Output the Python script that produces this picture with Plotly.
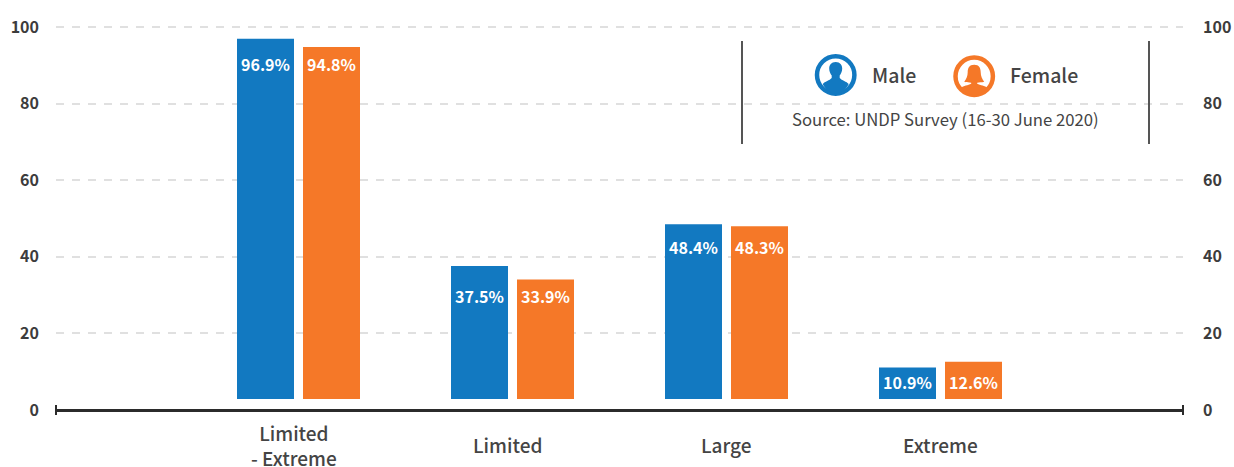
import plotly.graph_objects as go

categories = ["Limited<br>- Extreme", "Limited", "Large", "Extreme"]
male_labels = ["96.9%", "37.5%", "48.4%", "10.9%"]
female_labels = ["94.8%", "33.9%", "48.3%", "12.6%"]
male_values = [96.9, 37.6, 48.5, 11.1]
female_values = [94.8, 34.1, 48.0, 12.6]
y_ticks = [0, 20, 40, 60, 80, 100]

BLUE = "#1279c1"
ORANGE = "#f57828"
TEXT = "#444444"
FONT = "Noto Sans CJK KR"
W, H = 1234, 467
L, R, T, B = 56, 51, 22, 57
BAR_BASE = 2.87
SLOT_PX = 214
Y_MAX = 101.3

# pixel offsets of each value label below its bar top
male_drop = [25, 30, 23, 15]
female_drop = [17, 17, 21, 20]
cat_shift = [-5, -5, 0, 0]

pw = W - L - R
ph = H - T - B
px = lambda x: (x - L) / pw
py = lambda y: 1 - (y - T) / ph
idx = list(range(len(categories)))

fig = go.Figure()
fig.add_bar(x=idx, y=[v - BAR_BASE for v in male_values], base=BAR_BASE, name="Male",
            marker=dict(color=BLUE, line_width=0), showlegend=False)
fig.add_bar(x=idx, y=[v - BAR_BASE for v in female_values], base=BAR_BASE, name="Female",
            marker=dict(color=ORANGE, line_width=0), showlegend=False)
fig.add_scatter(x=idx, y=male_values, yaxis="y2", mode="markers", marker_opacity=0,
                hoverinfo="skip", showlegend=False)

for i in idx:
    for vals, labs, drop, sh in ((male_values, male_labels, male_drop, -33),
                                 (female_values, female_labels, female_drop, 33)):
        fig.add_annotation(x=i, y=vals[i], xref="x", yref="y", text=labs[i], showarrow=False,
                           xshift=sh, yshift=-drop[i], xanchor="center", yanchor="middle",
                           font=dict(family=FONT, size=16, color="white", weight=700))
    fig.add_annotation(x=i, xref="x", xshift=cat_shift[i], y=py(445), yref="paper", text=categories[i],
                       showarrow=False, xanchor="center", yanchor="middle",
                       font=dict(family=FONT, size=19, color=TEXT, weight=500))

shapes = [
    dict(type="rect", xref="paper", yref="paper", x0=px(738), x1=px(1154), y0=py(144), y1=py(41),
         fillcolor="white", line_width=0, layer="below"),
    dict(type="line", xref="paper", yref="paper", x0=px(742), x1=px(742), y0=py(144), y1=py(41),
         line=dict(color="#555555", width=2)),
    dict(type="line", xref="paper", yref="paper", x0=px(1149), x1=px(1149), y0=py(144), y1=py(41),
         line=dict(color="#555555", width=2)),
    dict(type="line", xref="paper", yref="paper", x0=px(56), x1=px(56), y0=py(415), y1=py(405),
         line=dict(color="#2b2b2b", width=2)),
    dict(type="line", xref="paper", yref="paper", x0=px(1183), x1=px(1183), y0=py(415), y1=py(405),
         line=dict(color="#2b2b2b", width=2)),
]

MALE_PATH = ("M 0,13 C -4.5,13 -6.5,10 -6.5,6.5 C -6.5,3.5 -5.2,1 -4,-0.5 L -4,-3 "
             "C -6,-5.5 -11,-6.5 -13,-9 C -10,-15 -5,-18.5 0,-18.5 C 5,-18.5 10,-15 13,-9 "
             "C 11,-6.5 6,-5.5 4,-3 L 4,-0.5 C 5.2,1 6.5,3.5 6.5,6.5 C 6.5,10 4.5,13 0,13 Z")
FEMALE_PATH = ("M 0,11.5 C -5,11.5 -6.5,8 -6.5,4 C -6.5,0 -8,-3 -10,-5.5 C -7.5,-6.2 -5,-6 -3,-6.5 L -3,-7.5 "
               "C -6,-9 -11,-9.5 -13,-11.5 C -10,-16 -5,-18.5 0,-18.5 C 5,-18.5 10,-16 13,-11.5 "
               "C 11,-9.5 6,-9 3,-7.5 L 3,-6.5 C 5,-6 7.5,-6.2 10,-5.5 C 8,-3 6.5,0 6.5,4 C 6.5,8 5,11.5 0,11.5 Z")

for cx, cy, col, path in ((835.7, 75, BLUE, MALE_PATH), (974.2, 76.3, ORANGE, FEMALE_PATH)):
    common = dict(xref="paper", yref="paper", xsizemode="pixel", ysizemode="pixel",
                  xanchor=px(cx), yanchor=py(cy))
    shapes.append(dict(type="circle", x0=-18.7, x1=18.7, y0=-18.7, y1=18.7,
                       fillcolor="white", line=dict(color=col, width=4.5), **common))
    shapes.append(dict(type="path", path=path, fillcolor=col, line_width=0, **common))

for x, y, txt, size, weight, anchor in ((870, 74.5, "Male", 19.5, 500, "left"),
                                        (1008, 74.5, "Female", 19.5, 500, "left"),
                                        (945.5, 119, "Source: UNDP Survey (16-30 June 2020)", 16.7, 400, "center")):
    fig.add_annotation(x=px(x), y=py(y), xref="paper", yref="paper", text=txt, showarrow=False,
                       xanchor=anchor, yanchor="middle",
                       font=dict(family=FONT, size=size, color=TEXT, weight=weight))

tickfont = dict(family=FONT, size=16, color="#3c3c3c", weight=700)
fig.update_layout(
    width=W, height=H, margin=dict(l=L, r=R, t=T, b=B, pad=0, autoexpand=False),
    plot_bgcolor="white", paper_bgcolor="white", barmode="group",
    bargap=1 - 132 / SLOT_PX, bargroupgap=9 / 66, shapes=shapes,
    font=dict(family=FONT),
    xaxis=dict(range=[(56 - 298.5) / SLOT_PX, (1183 - 298.5) / SLOT_PX], tickvals=idx,
               showticklabels=False, ticks="", showgrid=False, zeroline=False, showline=False),
    yaxis=dict(range=[0, Y_MAX], tickvals=y_ticks, tickfont=tickfont, ticks="", ticklabelstandoff=16,
               showgrid=True, gridcolor="#e0e0e0", gridwidth=1.5, griddash="8px,8px",
               zeroline=True, zerolinecolor="#2b2b2b", zerolinewidth=3, showline=False),
    yaxis2=dict(range=[0, Y_MAX], overlaying="y", side="right", anchor="x", tickvals=y_ticks,
                tickfont=tickfont, ticks="", ticklabelstandoff=19, showgrid=False, zeroline=False,
                showline=False),
)
fig.write_html("out.html", config={"displayModeBar": False},
               post_script="document.body.style.margin='0';")
